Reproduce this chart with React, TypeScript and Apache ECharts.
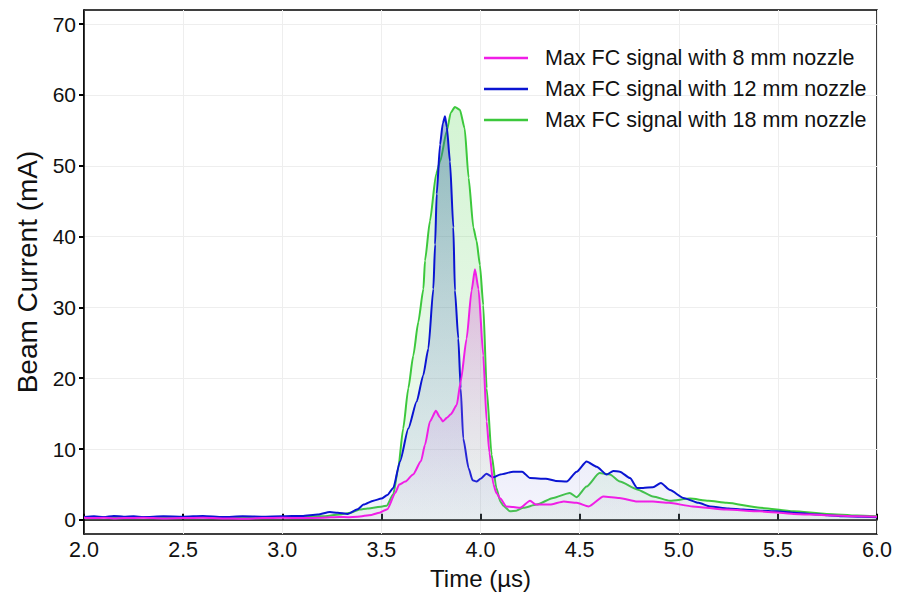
import React, { useEffect, useRef } from "react";
import * as echarts from "echarts";

const FONT = "'Liberation Sans', Arial, sans-serif";

const seriesNames = [
  "Max FC signal with 8 mm nozzle",
  "Max FC signal with 12 mm nozzle",
  "Max FC signal with 18 mm nozzle",
];

const xTicks = [2.0, 2.5, 3.0, 3.5, 4.0, 4.5, 5.0, 5.5, 6.0];
const yTicks = [0, 10, 20, 30, 40, 50, 60, 70];

// [time (µs), current (mA)]
const nozzle8mm: [number, number][] = [
  [2.0, 0.3], [2.05, 0.25], [2.1, 0.3], [2.15, 0.2], [2.2, 0.25], [2.3, 0.3], [2.4, 0.2], [2.5, 0.25],
  [2.6, 0.3], [2.7, 0.2], [2.8, 0.15], [2.9, 0.25], [3.0, 0.3], [3.1, 0.25], [3.2, 0.3], [3.29, 0.4],
  [3.33, 0.38], [3.38, 0.45], [3.45, 0.7], [3.49, 1.0], [3.53, 1.5], [3.57, 3.8], [3.59, 5.0], [3.62, 5.4],
  [3.66, 6.4], [3.7, 8.3], [3.72, 10.6], [3.745, 13.9], [3.775, 15.4], [3.795, 14.5], [3.81, 13.9],
  [3.83, 14.4], [3.85, 14.9], [3.88, 16.2], [3.9, 19.5], [3.93, 25.6], [3.955, 32.4], [3.972, 35.4],
  [3.99, 32.6], [4.014, 23.2], [4.031, 13.9], [4.045, 9.5], [4.065, 5.0], [4.08, 3.8], [4.1, 3.0],
  [4.13, 1.9], [4.165, 1.8], [4.2, 1.7], [4.25, 2.7], [4.28, 2.15], [4.35, 2.15], [4.42, 2.6],
  [4.485, 2.4], [4.545, 1.9], [4.62, 3.3], [4.7, 3.1], [4.79, 2.6], [4.87, 2.6], [4.95, 2.4],
  [5.07, 1.9], [5.24, 1.45], [5.41, 1.2], [5.58, 0.84], [5.75, 0.65], [5.9, 0.5], [6.0, 0.45],
];

const nozzle12mm: [number, number][] = [
  [2.0, 0.4], [2.05, 0.5], [2.1, 0.4], [2.15, 0.55], [2.2, 0.45], [2.25, 0.5], [2.3, 0.4], [2.4, 0.5],
  [2.5, 0.45], [2.6, 0.55], [2.7, 0.4], [2.8, 0.5], [2.9, 0.45], [3.0, 0.5], [3.1, 0.55], [3.18, 0.75],
  [3.24, 1.1], [3.28, 1.0], [3.33, 0.84], [3.38, 1.5], [3.41, 2.15], [3.46, 2.7], [3.5, 3.0], [3.53, 3.5],
  [3.56, 4.5], [3.594, 8.25], [3.636, 12.9], [3.678, 16.7], [3.711, 20.4], [3.737, 24.2], [3.762, 32.6],
  [3.771, 38.9], [3.779, 46], [3.796, 53], [3.81, 56], [3.821, 57.0], [3.83, 55.5], [3.846, 50.6],
  [3.863, 41.3], [3.871, 32.4], [3.888, 25.6], [3.9, 18.6], [3.913, 11.5], [3.94, 7.3], [3.96, 5.6],
  [3.98, 5.4], [4.0, 5.8], [4.03, 6.5], [4.065, 6.0], [4.1, 6.4], [4.165, 6.8], [4.21, 6.8], [4.25, 5.9],
  [4.33, 5.8], [4.38, 5.5], [4.435, 5.4], [4.485, 6.8], [4.535, 8.25], [4.586, 7.5], [4.636, 6.4],
  [4.67, 6.9], [4.703, 6.8], [4.754, 5.9], [4.79, 4.5], [4.82, 4.5], [4.87, 4.6], [4.91, 5.2],
  [4.956, 4.2], [5.023, 3.1], [5.1, 2.4], [5.157, 1.9], [5.25, 1.6], [5.326, 1.45], [5.41, 1.3],
  [5.494, 1.2], [5.58, 1.0], [5.662, 0.84], [5.75, 0.65], [5.83, 0.5], [5.92, 0.45], [6.0, 0.38],
];

const nozzle18mm: [number, number][] = [
  [2.0, 0.35], [2.1, 0.4], [2.2, 0.35], [2.3, 0.4], [2.4, 0.35], [2.5, 0.4], [2.6, 0.35], [2.7, 0.4],
  [2.8, 0.35], [2.9, 0.4], [3.0, 0.4], [3.1, 0.45], [3.2, 0.5], [3.29, 0.75], [3.345, 1.0], [3.39, 1.45],
  [3.43, 1.6], [3.46, 1.7], [3.505, 1.9], [3.527, 2.0], [3.56, 3.6], [3.585, 7.3], [3.61, 12.9],
  [3.636, 18.6], [3.661, 23.2], [3.686, 27.9], [3.712, 32.6], [3.72, 36.6], [3.745, 42.2], [3.776, 48.8],
  [3.796, 50.6], [3.83, 54.9], [3.85, 57.5], [3.871, 58.3], [3.896, 57.9], [3.92, 55.3], [3.94, 48.3],
  [3.964, 41.3], [3.98, 39.4], [3.997, 36], [4.014, 30.3], [4.031, 18.6], [4.056, 9.2], [4.08, 4.5],
  [4.1, 2.6], [4.115, 2.0], [4.149, 1.2], [4.18, 1.3], [4.216, 1.7], [4.283, 2.15], [4.367, 3.1],
  [4.45, 3.8], [4.485, 3.2], [4.535, 4.7], [4.6, 6.6], [4.653, 6.4], [4.703, 5.4], [4.79, 4.3],
  [4.87, 3.3], [4.956, 2.7], [5.057, 3.0], [5.15, 2.7], [5.242, 2.4], [5.41, 1.7], [5.578, 1.2],
  [5.746, 0.84], [5.9, 0.6], [6.0, 0.5],
];

const lineColors = ["#f01ee6", "#0a14d2", "#3cc83c"];

function grad(top: string, bottom: string) {
  return new echarts.graphic.LinearGradient(0, 0, 0, 1, [
    { offset: 0, color: top },
    { offset: 1, color: bottom },
  ]);
}

export default function App() {
  const ref = useRef<HTMLDivElement>(null);
  useEffect(() => {
    if (!ref.current) return;
    const chart = echarts.init(ref.current, undefined, { renderer: "svg" });
    const datas = [nozzle8mm, nozzle12mm, nozzle18mm];
    const fills = [
      grad("rgba(220,80,210,0.40)", "rgba(200,160,240,0.06)"),
      grad("rgba(40,100,150,0.42)", "rgba(130,130,225,0.08)"),
      grad("rgba(80,210,80,0.25)", "rgba(110,210,110,0.10)"),
    ];
    const zs = [4, 3, 2];
    chart.setOption({
      animation: false,
      backgroundColor: "#fff",
      grid: {
        left: 84,
        right: 39,
        top: 10,
        bottom: 59,
        show: true,
        borderColor: "#000",
        borderWidth: 1.5,
        backgroundColor: "transparent",
      },
      legend: {
        left: 479,
        top: 42,
        orient: "vertical",
        icon: "rect",
        itemWidth: 44,
        itemHeight: 2.5,
        itemGap: 9,
        data: seriesNames,
        textStyle: {
          fontFamily: FONT,
          fontSize: 21.5,
          color: "#111",
          padding: [0, 0, 0, 12],
        },
      },
      xAxis: {
        type: "value",
        min: 2,
        max: 6,
        interval: 0.5,
        name: "Time (µs)",
        nameLocation: "middle",
        nameGap: 32,
        nameTextStyle: { fontFamily: FONT, fontSize: 24, color: "#111" },
        axisLine: { show: true, lineStyle: { color: "#000", width: 1.5 } },
        axisTick: { show: true, inside: true, length: 6, lineStyle: { color: "#000", width: 2 } },
        axisLabel: {
          fontFamily: FONT,
          fontSize: 21.5,
          color: "#111",
          margin: 5,
          customValues: xTicks,
          formatter: (v: number) => v.toFixed(1),
        },
        splitLine: { show: true, lineStyle: { color: "#eeeeee", width: 1 } },
      },
      yAxis: {
        type: "value",
        min: -2,
        max: 72,
        name: "Beam Current (mA)",
        nameLocation: "middle",
        nameGap: 40,
        nameTextStyle: { fontFamily: FONT, fontSize: 28, color: "#111" },
        axisLine: { show: true, lineStyle: { color: "#000", width: 1.5 } },
        axisTick: {
          show: true,
          inside: false,
          length: 5,
          customValues: yTicks,
          lineStyle: { color: "#000", width: 2 },
        },
        axisLabel: {
          fontFamily: FONT,
          fontSize: 21,
          color: "#111",
          margin: 8,
          customValues: yTicks,
        },
        splitLine: { show: true, lineStyle: { color: "#eeeeee", width: 1 } },
      },
      series: seriesNames.map((name, i) => ({
        name,
        type: "line",
        data: datas[i],
        symbol: "none",
        showSymbol: false,
        smooth: 0.2,
        smoothMonotone: "x",
        z: zs[i],
        color: lineColors[i],
        lineStyle: { color: lineColors[i], width: 2 },
        areaStyle: { color: fills[i], opacity: 1 },
      })),
    });
    return () => chart.dispose();
  }, []);
  return <div ref={ref} style={{ width: 916, height: 595, position: "absolute", left: 0, top: 0 }} />;
}
